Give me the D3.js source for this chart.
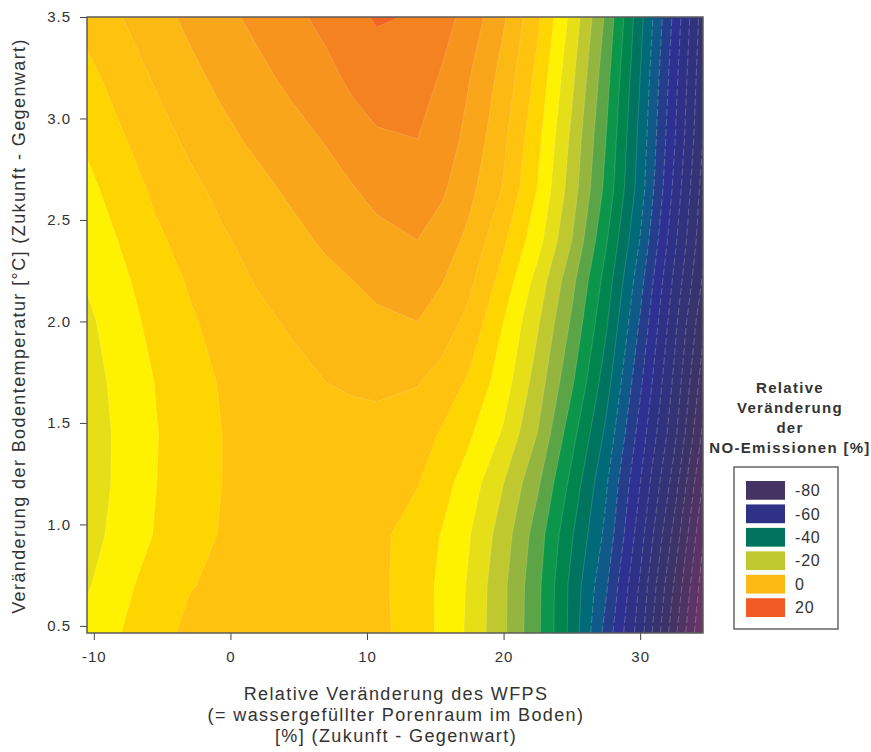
<!DOCTYPE html>
<html>
<head>
<meta charset="utf-8">
<script src="https://cdn.jsdelivr.net/npm/d3@7"></script>
<style>
    html, body { margin: 0; padding: 0; background: #fff; }
    svg { display: block; }
    text { font-family: "Liberation Sans", Arial, sans-serif; fill: #333; }
</style>
</head>
<body>
<div id="chart"></div>
<script>
// grid: relative change of NO emissions [%]
var wfpsValues = [-10.5, -8, -5.5, -3, -0.5, 2, 4.5, 7, 9, 10.7, 13.7, 15.5, 17.5, 20, 22.5, 25, 27.5, 30, 32.5, 34.6];
var tempValues = [3.5, 3.2, 2.9, 2.65, 2.4, 2.2, 2.0, 1.7, 1.45, 1.2, 0.95, 0.7, 0.465];
var emissionRows = [
    [-2.6, -0.1, 2.5, 4.9, 7, 9, 11, 13.1, 15, 16.4, 15.7, 13.5, 10.5, 4.5, -3.2, -13.2, -24.7, -38.7, -53, -66],
    [-5.2, -2.3, 0.4, 2.9, 5.1, 7, 8.9, 10.9, 12.9, 14, 13.8, 11.6, 8.1, 2.6, -5.2, -15.1, -26.5, -40, -54.5, -67],
    [-7.4, -4.4, -1.7, 0.8, 3, 4.9, 6.6, 8.3, 10.2, 11.5, 12, 10, 6.9, 0.8, -6.9, -16.9, -28, -41.2, -55.6, -68],
    [-9, -6.3, -3.2, -1, 1.1, 2.9, 4.7, 6.4, 7.8, 9.1, 10, 8.6, 5.1, -0.3, -8.2, -18, -29.1, -42, -57, -69.6],
    [-10.5, -7.7, -4.8, -2.5, -0.4, 1.25, 2.9, 4.6, 5.9, 6.85, 8, 6.1, 3, -3.3, -10.5, -20, -31.5, -44.2, -59, -70.8],
    [-11.6, -8.8, -6, -3.6, -1.6, 0.3, 1.6, 3, 4, 5, 6, 4.2, 0.9, -5.6, -13.5, -22.8, -33.6, -46.5, -60.9, -72.5],
    [-12.9, -9.6, -6.9, -4.5, -2.6, -0.9, 0.5, 1.4, 2.2, 3.24, 4, 2, -1.1, -8, -15.5, -24.6, -35.3, -48.4, -62.7, -75],
    [-13.8, -10.7, -7.9, -5.5, -3.6, -2.3, -1.2, 0, 0.55, 0.8, 0.2, -1.45, -4.7, -10.1, -17.9, -27.4, -38.2, -51.2, -64.9, -78],
    [-14.5, -11, -8.2, -6.1, -3.9, -3, -2.5, -1.9, -1.4, -1.3, -2.04, -4.4, -7.4, -12.5, -20.1, -30.5, -40.8, -53.6, -66.8, -80.7],
    [-14.5, -10.9, -8.1, -5.9, -3.9, -3.3, -2.8, -2.4, -2.1, -2.3, -3.8, -6.6, -9.9, -16, -23.4, -33.3, -43.5, -56, -70, -84.3],
    [-13.8, -10.4, -7.8, -5.7, -3.6, -3, -2.7, -2.7, -2.8, -2.9, -6, -8.2, -11.8, -18, -26, -35.6, -45, -58.2, -73.3, -87.5],
    [-12.4, -9.3, -6, -4.2, -3.2, -2.4, -2.2, -2.5, -2.9, -3, -6.1, -8.9, -12.5, -19.2, -27, -37.2, -47.4, -60.6, -76.4, -90],
    [-10.6, -8, -5.4, -3.1, -2.7, -2.2, -2, -2.3, -2.7, -2.9, -6, -8.9, -12.8, -19.3, -27.2, -37.4, -49.4, -62.2, -78.8, -92]
];

// lower bound of every colour band and its colour
var bandLevels = [-92, -88, -84, -80, -76, -72, -68, -64, -60, -56, -52, -48, -44, -40, -36, -32, -28, -24, -20, -16, -12, -8, -4, 0, 4, 8, 12, 16, 20];
var bandColors = ["#6a3568", "#5c3366", "#4f3365", "#453363", "#3c3369", "#37336f", "#343375", "#31327e", "#2e3185", "#2e3192", "#253e8c", "#0f5a88", "#006a78", "#00745f", "#00854f", "#0c964a", "#5ba546", "#94b63e", "#bfc92f", "#e6de16", "#fff200", "#ffd500", "#ffc20e", "#fdb913", "#faa61a", "#f7941d", "#f58220", "#f26522", "#f15a22"];

var legendLevels = [-80, -60, -40, -20, 0, 20];
var xTickValues = [-10, 0, 10, 20, 30];
var yTickValues = [0.5, 1.0, 1.5, 2.0, 2.5, 3.0, 3.5];
var xTitleLines = ["Relative Veränderung des WFPS", "(= wassergefüllter Porenraum im Boden)", "[%] (Zukunft - Gegenwart)"];
var yTitle = "Veränderung der Bodentemperatur [°C] (Zukunft - Gegenwart)";
var legendTitleLines = ["Relative", "Veränderung", "der", "NO-Emissionen [%]"];

var width = 871, height = 752;
var plot = { left: 87, right: 703, top: 17, bottom: 633 };

var svg = d3.select("#chart").append("svg").attr("width", width).attr("height", height);

var xScale = d3.scaleLinear().domain([-10.5, 34.6]).range([plot.left, plot.right]);
var yScale = d3.scaleLinear().domain([3.5, 0.465]).range([plot.top, plot.bottom]);
var colorScale = d3.scaleOrdinal().domain(bandLevels).range(bandColors);

// d3.contours puts grid value i at i + 0.5, the grid here is not evenly spaced
var columnToWfps = d3.scaleLinear().domain(wfpsValues.map(function (d, i) { return i + 0.5; })).range(wfpsValues);
var rowToTemp = d3.scaleLinear().domain(tempValues.map(function (d, i) { return i + 0.5; })).range(tempValues);

var gridPath = d3.geoPath(d3.geoTransform({
    point: function (x, y) {
        this.stream.point(xScale(columnToWfps(x)), yScale(rowToTemp(y)));
    }
}));

var contours = d3.contours()
    .size([wfpsValues.length, tempValues.length])
    .thresholds(bandLevels)(d3.merge(emissionRows));

svg.append("clipPath").attr("id", "plot-clip").append("rect")
    .attr("x", plot.left).attr("y", plot.top)
    .attr("width", plot.right - plot.left).attr("height", plot.bottom - plot.top);

var bands = svg.append("g").attr("clip-path", "url(#plot-clip)");
bands.append("rect")
    .attr("x", plot.left).attr("y", plot.top)
    .attr("width", plot.right - plot.left).attr("height", plot.bottom - plot.top)
    .attr("fill", colorScale(bandLevels[0]));
bands.selectAll("path").data(contours).enter().append("path")
    .attr("d", gridPath)
    .attr("fill", function (d) { return colorScale(d.value); })
    .attr("stroke", "#fff")
    .attr("stroke-opacity", function (d) { return d.value < -40 ? 0.4 : 0.25; })
    .attr("stroke-width", 0.6)
    .attr("stroke-dasharray", function (d) { return d.value < -40 ? "7 3" : null; });

// axes
var xAxis = d3.axisBottom(xScale).tickValues(xTickValues).tickSize(7).tickPadding(11)
    .tickFormat(function (d) { return String(d); });
var yAxis = d3.axisLeft(yScale).tickValues(yTickValues).tickSize(7).tickPadding(9)
    .tickFormat(d3.format(".1f"));

var xAxisGroup = svg.append("g").attr("transform", "translate(0," + plot.bottom + ")").call(xAxis);
var yAxisGroup = svg.append("g").attr("transform", "translate(" + plot.left + ",0)").call(yAxis);
[xAxisGroup, yAxisGroup].forEach(function (axis) {
    axis.select(".domain").remove();
    axis.selectAll("line").attr("stroke", "#444").attr("stroke-width", 1);
    axis.selectAll("text")
        .attr("fill", "#333")
        .style("font-size", "15px")
        .style("letter-spacing", "1px");
});

svg.append("rect")
    .attr("x", plot.left).attr("y", plot.top)
    .attr("width", plot.right - plot.left).attr("height", plot.bottom - plot.top)
    .attr("fill", "none").attr("stroke", "#5c5c5c").attr("stroke-width", 1.5);

// axis titles
svg.selectAll("text.x-title").data(xTitleLines).enter().append("text")
    .attr("class", "x-title")
    .attr("x", 396)
    .attr("y", function (d, i) { return 700 + i * 21; })
    .attr("text-anchor", "middle")
    .style("font-size", "18px")
    .style("letter-spacing", "1.4px")
    .text(function (d) { return d; });

svg.append("text")
    .attr("transform", "translate(25,326) rotate(-90)")
    .attr("text-anchor", "middle")
    .style("font-size", "18px")
    .style("letter-spacing", "1.4px")
    .text(yTitle);

// legend
svg.selectAll("text.legend-title").data(legendTitleLines).enter().append("text")
    .attr("class", "legend-title")
    .attr("x", 790)
    .attr("y", function (d, i) { return 392.5 + i * 20.3; })
    .attr("text-anchor", "middle")
    .style("font-size", "15px")
    .style("font-weight", "bold")
    .style("letter-spacing", "1.3px")
    .text(function (d) { return d; });

svg.append("rect")
    .attr("x", 734).attr("y", 467).attr("width", 104).attr("height", 162)
    .attr("fill", "none").attr("stroke", "#666").attr("stroke-width", 1.5);

var legendScale = d3.scaleBand().domain(legendLevels).range([481, 617]).paddingInner(0.2);
var legendItems = svg.selectAll("g.legend-item").data(legendLevels).enter().append("g")
    .attr("class", "legend-item")
    .attr("transform", function (d) { return "translate(746," + legendScale(d) + ")"; });
legendItems.append("rect")
    .attr("width", 39)
    .attr("height", legendScale.bandwidth())
    .attr("fill", function (d) { return colorScale(d); });
legendItems.append("text")
    .attr("x", 49)
    .attr("y", legendScale.bandwidth() / 2)
    .attr("dy", "0.36em")
    .style("font-size", "16px")
    .style("letter-spacing", "0.8px")
    .text(function (d) { return String(d); });
</script>
</body>
</html>
